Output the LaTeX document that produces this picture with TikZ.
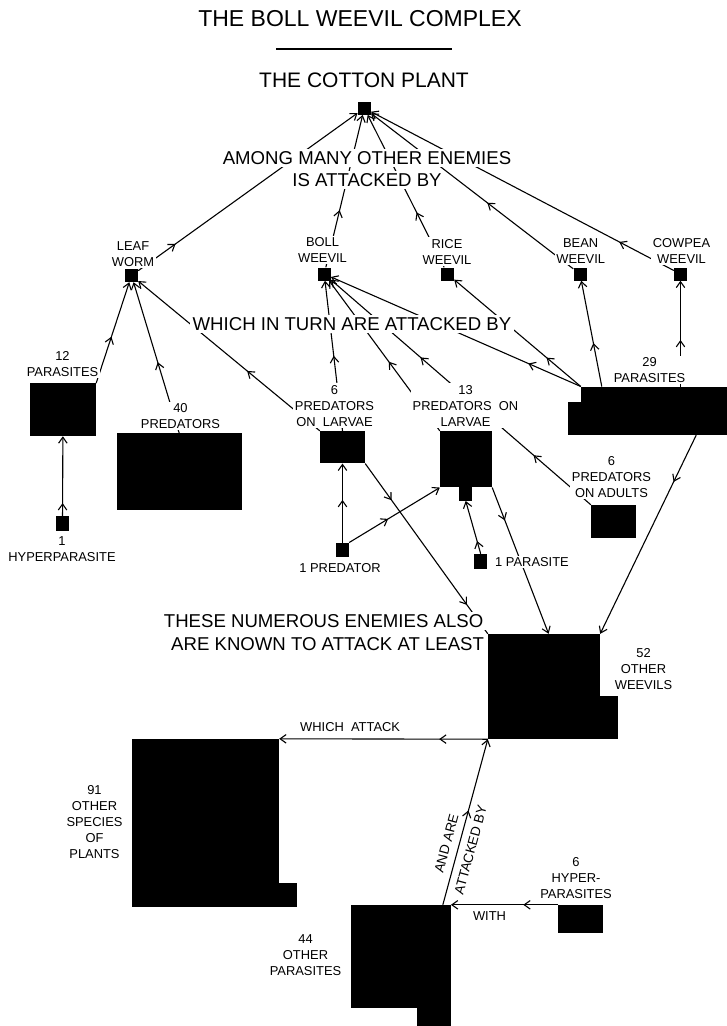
\documentclass[tikz,border=0pt]{standalone}
\usepackage{fontspec}
\setmainfont{Liberation Sans}
\usetikzlibrary{arrows.meta,positioning,backgrounds,decorations.markings}

\begin{document}
\begin{tikzpicture}[
    x=1pt, y=-1pt,
    font=\fontsize{12.9}{16}\selectfont,
    sq/.style={fill=black, inner sep=0pt, minimum width=13pt, minimum height=13pt},
    blk/.style={fill=black, inner sep=0pt},
    lbl/.style={align=center, fill=white, inner sep=1.5pt, anchor=base},
    hd/.style={font=\fontsize{18.6}{22.7}\selectfont, fill=white, inner sep=2.5pt, anchor=base},
    lnk/.style={line width=1.1pt, -{Straight Barb[length=6pt,width=8.5pt]}},
    mid/.style={postaction={decorate, decoration={markings,
                mark=at position #1 with {\arrow{Straight Barb[length=6pt,width=8.5pt]}}}}},
    ]
\useasboundingbox (0,0) rectangle (727,1026);

\node[anchor=base, font=\fontsize{23}{28}\selectfont] (title) at (360,26) {THE BOLL WEEVIL COMPLEX};
\draw[line width=1.3pt] (276,49) -- (452,49);
\node[anchor=base, font=\fontsize{21}{26}\selectfont] (cotton) at (364,87) {THE COTTON PLANT};
\node[hd] (among) at (367,164) {AMONG MANY OTHER ENEMIES};
\node[hd] (isatt) at (367,186.7) {IS ATTACKED BY};
\node[hd] (inturn) at (352,330.7) {WHICH IN TURN ARE ATTACKED BY};
\node[hd] (these) at (323.6,627.3) {THESE NUMEROUS ENEMIES ALSO};
\node[hd] (known) at (327.6,650) {ARE KNOWN TO ATTACK AT LEAST};

\node[sq] (plant) at (364.3,108.2) {};
\node[sq] (leafworm) at (131.5,275.5) {};
\node[sq] (boll) at (324.2,274) {};
\node[sq] (rice) at (447.5,274) {};
\node[sq] (bean) at (580,274) {};
\node[sq] (cowpea) at (680.5,274) {};
\node[sq, minimum height=15pt] (hyper1) at (62.5,523.5) {};
\node[sq, minimum height=14.6pt] (pred1) at (342.5,550) {};
\node[sq, minimum height=15pt] (para1) at (480.7,561.5) {};

\node[blk, minimum width=66pt, minimum height=52.7pt] (para12) at (63,409.7) {};
\node[blk, minimum width=125pt, minimum height=76.7pt] (pred40) at (179.2,471.7) {};
\node[blk, minimum width=45pt, minimum height=32.3pt] (larv6) at (342.5,447.2) {};
\node[blk, minimum width=52pt, minimum height=56.3pt] (larv13) at (466,459.2) {};
\node[blk, minimum width=13.3pt, minimum height=13.4pt] (larv13b) at (465.7,494) {};
\node[blk, minimum width=45pt, minimum height=32.7pt] (adult6) at (613.5,521.3) {};
\node[blk, minimum width=146pt, minimum height=48.3pt] (para29) at (654,410.85) {};
\fill (568.3,401.7) rectangle (para29.south west);
\node[blk, minimum width=112pt, minimum height=105pt] (weev52) at (544,686.5) {};
\fill (600,696) rectangle (618.3,739);
\node[blk, minimum width=147pt, minimum height=167.7pt] (plants91) at (205.5,822.85) {};
\fill (279,883.3) rectangle (296.7,906.7);
\node[blk, minimum width=99.7pt, minimum height=103.3pt] (para44) at (400.85,956.65) {};
\fill (416.7,1008.3) rectangle (450.7,1026);
\node[blk, minimum width=44.4pt, minimum height=28.3pt] (hyper6) at (580.5,919.15) {};

\node[lbl] (leaflbl) at (133,266) {LEAF\\WORM};
\node[lbl] (bolllbl) at (322.5,262.7) {BOLL\\WEEVIL};
\node[lbl] (ricelbl) at (447,264) {RICE\\WEEVIL};
\node[lbl] (beanlbl) at (580.7,263.7) {BEAN\\WEEVIL};
\node[lbl] (cowlbl) at (681.5,263.7) {COWPEA\\WEEVIL};
\node[lbl] (para12lbl) at (62.5,376.7) {12\\PARASITES};
\node[lbl] (hyper1lbl) at (62,561.7) {1\\HYPERPARASITE};
\node[lbl] (pred40lbl) at (180.5,428.3) {40\\PREDATORS};
\node[lbl] (larv6lbl) at (334.5,426) {6\\PREDATORS\\ON\ \ LARVAE};
\node[lbl] (larv13lbl) at (465.5,426) {13\\PREDATORS\ \ ON\\LARVAE};
\node[lbl] (pred1lbl) at (340,572.7) {1 PREDATOR};
\node[lbl, anchor=base west] (para1lbl) at (493.5,566.7) {1 PARASITE};
\node[lbl] (adult6lbl) at (611.5,497.7) {6\\PREDATORS\\ON ADULTS};
\node[lbl] (para29lbl) at (649.5,382.7) {29\\PARASITES};
\node[lbl] (weev52lbl) at (643.5,689) {52\\OTHER\\WEEVILS};
\node[lbl] (plants91lbl) at (94.5,858.3) {91\\OTHER\\SPECIES\\OF\\PLANTS};
\node[lbl] (para44lbl) at (305.5,975.3) {44\\OTHER\\PARASITES};
\node[lbl] (hyper6lbl) at (576,898.3) {6\\HYPER-\\PARASITES};

\begin{scope}[on background layer]
\draw[lnk, mid=.17] (leafworm) -- (plant);
\draw[lnk, mid=.375] (boll) -- (plant);
\draw[lnk, mid=.36] (rice) -- (plant);
\draw[lnk, mid=.425] (bean) -- (plant);
\draw[lnk, mid=.18] (cowpea) -- (plant);
\draw[lnk, mid=.46] (para12.north east) -- (leafworm);
\draw[lnk, mid=.47] (pred40.north) -- (leafworm);
\draw[lnk, mid=.40] (larv6.north west) -- (leafworm);
\draw[lnk, mid=.16] (hyper1) -- (para12);
\draw[lnk, mid=.5] (larv6.north) -- (boll);
\draw[lnk, mid=.46] (larv13.north west) -- (boll);
\draw[lnk, mid=.22, mid=.655] (adult6.north west) -- (boll);
\draw[lnk, mid=.21] (para29.north west) -- (boll);
\draw[lnk, mid=.27] (para29.north west) -- (rice);
\draw[lnk, mid=.41] (para29.155) -- (bean);
\draw[lnk, mid=.44] (para29.north -| cowpea) -- (cowpea);
\draw[lnk, mid=.54] (pred1) -- (larv6);
\draw[lnk, mid=.43] (pred1.north east) -- (larv13.south west);
\draw[lnk, mid=.24] (para1.north) -- (larv13b.south);
\draw[lnk, mid=.235] (para29.330) -- (weev52.north east);
\draw[lnk, mid=.224] (larv13.south east) -- (weev52.85);
\draw[line width=1.1pt, mid=.215, mid=.83] (larv6.south east) -- (weev52.north west);
\draw[lnk, mid=.233] (weev52.south west) -- node[above=6pt, inner sep=1pt, pos=.66] {WHICH\ \ ATTACK} (plants91.north east);
\draw[lnk, mid=.57] (para44.51) -- node[sloped, pos=.35, align=center, inner sep=1pt,
    font=\fontsize{13.5}{25}\selectfont] {AND ARE\\ATTACKED BY} (weev52.south west);
\draw[lnk, mid=.325] (hyper6.north west) -- node[below=5.7pt, inner sep=1pt, pos=.64] {WITH} (para44.north east);
\end{scope}
\end{tikzpicture}
\end{document}
